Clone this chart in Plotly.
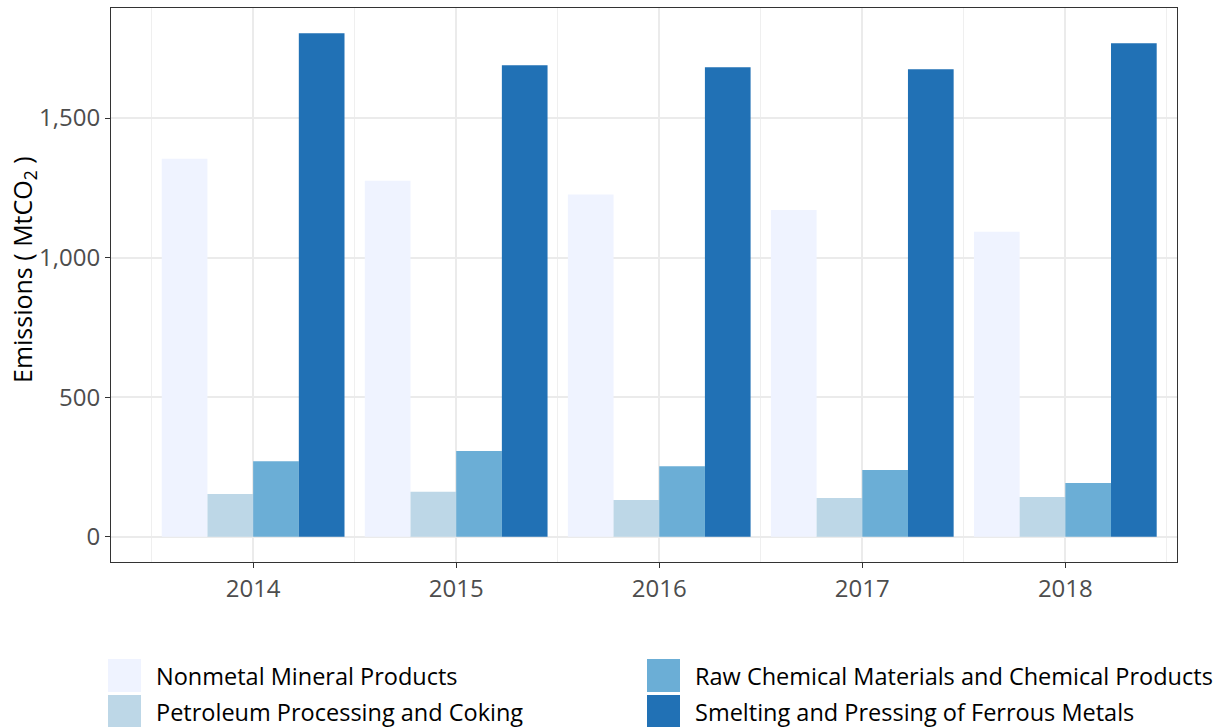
import plotly.graph_objects as go

years = [2014, 2015, 2016, 2017, 2018]
nonmetal = [1354, 1275, 1226, 1171, 1093]
petroleum = [153, 161, 132, 139, 143]
raw_chem = [271, 307, 253, 239, 193]
smelting = [1804, 1689, 1682, 1675, 1768]

series_names = ["Nonmetal Mineral Products", "Petroleum Processing and Coking",
                "Raw Chemical Materials and Chemical Products",
                "Smelting and Pressing of Ferrous Metals"]
series_values = [nonmetal, petroleum, raw_chem, smelting]
colors = ["#EFF3FF", "#BDD7E7", "#6BAED6", "#2171B5"]
y_ticks = [0, 500, 1000, 1500]
y_ticklabels = ["0", "500", "1,000", "1,500"]
y_title = "Emissions ( MtCO<sub>2</sub> )"

FONT = "Open Sans"
W, H = 1222, 727
L, R, T, B = 111, 45, 8, 165

fig = go.Figure()
for name, vals, c in zip(series_names, series_values, colors):
    fig.add_trace(go.Bar(x=years, y=vals, name=name, marker=dict(color=c, line=dict(width=0)),
                         showlegend=False))

ymax = max(max(v) for v in series_values)
pad = 0.05 * ymax

fig.update_layout(
    width=W, height=H,
    margin=dict(l=L, r=R, t=T, b=B),
    paper_bgcolor="white", plot_bgcolor="white",
    barmode="group", bargap=0.1, bargroupgap=0,
    font=dict(family=FONT, size=20, color="#4D4D4D"),
    xaxis=dict(range=[2013.30, 2018.55], tickmode="array", tickvals=years,
               ticktext=[str(y) for y in years],
               showgrid=True, gridcolor="#EBEBEB", gridwidth=1.6,
               minor=dict(dtick=0.5, showgrid=True, gridcolor="#EFEFEF", gridwidth=0.9, ticks=""),
               ticks="outside", ticklen=5, tickcolor="#333333", tickwidth=1.1,
               showline=True, linecolor="#333333", linewidth=1.1, mirror=True,
               zeroline=False, tickfont=dict(size=24, color="#4D4D4D")),
    yaxis=dict(range=[-pad, ymax + pad], tickmode="array", tickvals=y_ticks,
               ticktext=y_ticklabels,
               showgrid=True, gridcolor="#EBEBEB", gridwidth=1.6,
               ticks="outside", ticklen=5, tickcolor="#333333", tickwidth=1.1,
               showline=True, linecolor="#333333", linewidth=1.1, mirror=True,
               zeroline=False, tickfont=dict(size=24, color="#4D4D4D")),
)

pw = W - L - R
ph = H - T - B
def px2x(px):
    return (px - L) / pw
def py2y(py):
    return (H - B - py) / ph

# y-axis title
fig.add_annotation(xref="paper", yref="paper", x=px2x(24), y=py2y(270),
                   text=y_title, textangle=-90, showarrow=False,
                   xanchor="center", yanchor="middle",
                   font=dict(family=FONT, size=25, color="black"))

# manual legend (two columns, large swatches)
legend_pos = [  # (swatch left px, row top px)
    (108, 659), (108, 695), (647, 659), (647, 695)
]
for (sx, sy), name, c in zip(legend_pos, series_names, colors):
    fig.add_shape(type="rect", xref="paper", yref="paper",
                  x0=px2x(sx), x1=px2x(sx + 33), y0=py2y(sy), y1=py2y(sy + 33),
                  fillcolor=c, line=dict(width=0), layer="above")
    fig.add_annotation(xref="paper", yref="paper", x=px2x(sx + 46), y=py2y(sy + 17),
                       text=name, showarrow=False, xanchor="left", yanchor="middle",
                       font=dict(family=FONT, size=23.5, color="black"))

fig.write_html("out.html", config={"displayModeBar": False},
               post_script="document.body.style.margin='0';document.body.style.overflow='hidden';")
